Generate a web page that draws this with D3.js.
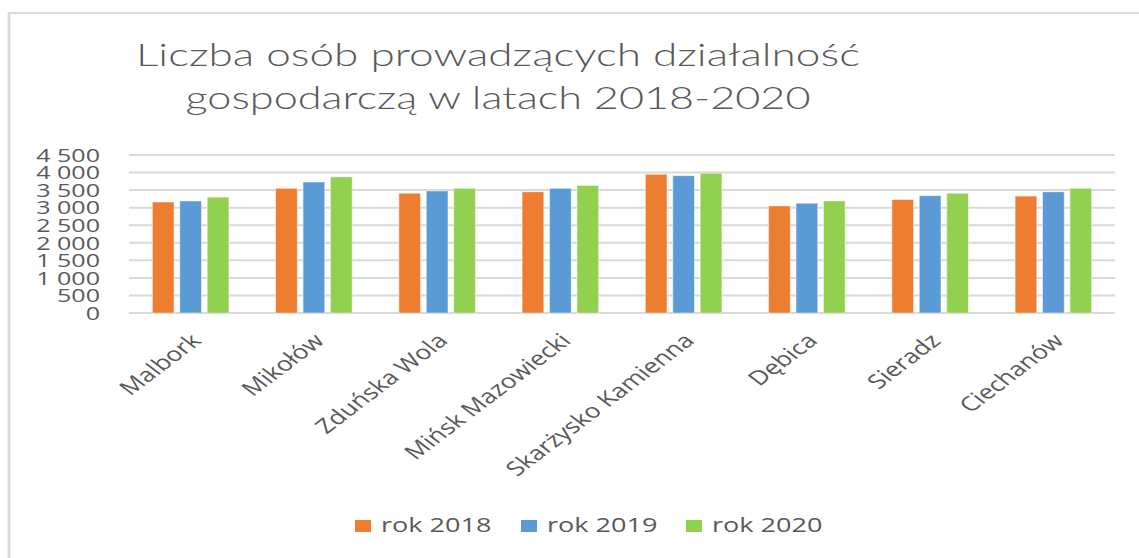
<!DOCTYPE html>
<html>
<head>
<meta charset="utf-8">
<script src="https://cdn.jsdelivr.net/npm/d3@7"></script>
<style>
  html, body { margin: 0; padding: 0; background: #fff; }
  svg { display: block; }
</style>
</head>
<body>
<svg id="chart"></svg>
<script>
// ---- data ----
const categories = ["Malbork", "Mikołów", "Zduńska Wola", "Mińsk Mazowiecki", "Skarżysko Kamienna", "Dębica", "Sieradz", "Ciechanów"];
const seriesNames = ["rok 2018", "rok 2019", "rok 2020"];
const rok2018 = [3160, 3550, 3410, 3450, 3950, 3050, 3230, 3330];
const rok2019 = [3190, 3730, 3475, 3550, 3910, 3125, 3340, 3450];
const rok2020 = [3300, 3875, 3550, 3630, 3980, 3190, 3410, 3550];
const yTicks = [0, 500, 1000, 1500, 2000, 2500, 3000, 3500, 4000, 4500];
const titleLines = ["Liczba osób prowadzących działalność", "gospodarczą w latach 2018-2020"];
const colors = ["#ED7D31", "#5B9BD5", "#92D050"];

(function () {
// ---- layout ----
const W = 1139, H = 558;
const S = 1.32;            // horizontal stretch of the reference picture
const VW = W / S;
const svg = d3.select("#chart")
  .attr("width", W).attr("height", H)
  .attr("viewBox", `0 0 ${VW} ${H}`)
  .attr("preserveAspectRatio", "none");

const pLeft = 129 / S, pRight = 1115 / S, pTop = 155, pBottom = 313;

// border
svg.append("rect")
  .attr("x", 9 / S).attr("y", 13)
  .attr("width", VW + 20).attr("height", H + 20)
  .attr("fill", "none").attr("stroke", "#d9d9d9").attr("stroke-width", 2);

// title
svg.selectAll("text.title").data(titleLines).join("text")
  .attr("class", "title")
  .attr("x", 498 / S)
  .attr("y", (d, i) => 66 + i * 43)
  .attr("text-anchor", "middle")
  .attr("font-family", "Lato, 'Open Sans', sans-serif")
  .attr("font-weight", 300)
  .attr("font-size", 30.5)
  .attr("fill", "#595959")
  .attr("textLength", (d, i) => (i === 0 ? 724 : 625) / S)
  .attr("lengthAdjust", "spacingAndGlyphs")
  .text(d => d);

// scales
const x0 = d3.scaleBand().domain(categories).range([pLeft, pRight]).paddingInner(0).paddingOuter(0);
const x1 = d3.scaleBand().domain(seriesNames).range([0, x0.bandwidth()]).paddingInner(0.207).paddingOuter(0.85);
const y = d3.scaleLinear().domain([0, 4500]).range([pBottom, pTop]);

// gridlines
svg.append("g").selectAll("line").data(yTicks).join("line")
  .attr("x1", pLeft).attr("x2", pRight)
  .attr("y1", d => y(d)).attr("y2", d => y(d))
  .attr("stroke", "#d9d9d9").attr("stroke-width", 2);

// y axis labels
const fmt = v => d3.format(",")(v).replace(/,/g, " ");
svg.append("g").selectAll("text").data(yTicks).join("text")
  .attr("x", 100 / S)
  .attr("y", d => y(d))
  .attr("dy", "0.36em")
  .attr("text-anchor", "end")
  .attr("font-family", "'Open Sans', sans-serif")
  .attr("font-size", 19)
  .attr("fill", "#595959")
  .text(fmt);

// bars
const allSeries = [rok2018, rok2019, rok2020];
const barData = [];
categories.forEach((c, ci) => {
  seriesNames.forEach((s, si) => barData.push({ c, s, si, v: allSeries[si][ci] }));
});
svg.append("g").selectAll("rect").data(barData).join("rect")
  .attr("x", d => x0(d.c) + x1(d.s))
  .attr("width", x1.bandwidth())
  .attr("y", d => y(d.v))
  .attr("height", d => y(0) - y(d.v))
  .attr("fill", d => colors[d.si])
  .attr("stroke", "#ffffff").attr("stroke-opacity", 0.5).attr("stroke-width", 0.8);

// x labels
svg.append("g").selectAll("text").data(categories).join("text")
  .attr("transform", d => `translate(${x0(d) + x0.bandwidth() / 2 + 9},${pBottom + 29}) rotate(-45)`)
  .attr("text-anchor", "end")
  .attr("font-family", "'Open Sans', sans-serif")
  .attr("font-size", 20)
  .attr("fill", "#595959")
  .text(d => d);

// legend
const legX = [355, 521, 686];
const lg = svg.append("g").selectAll("g").data(seriesNames).join("g")
  .attr("transform", (d, i) => `translate(${legX[i] / S},0)`);
lg.append("rect")
  .attr("x", 0).attr("y", 520)
  .attr("width", 16 / S).attr("height", 12)
  .attr("fill", (d, i) => colors[i]);
lg.append("text")
  .attr("x", 26 / S).attr("y", 532)
  .attr("font-family", "'Open Sans', sans-serif")
  .attr("font-size", 20.5)
  .attr("fill", "#595959")
  .text(d => d);
})();
</script>
</body>
</html>
